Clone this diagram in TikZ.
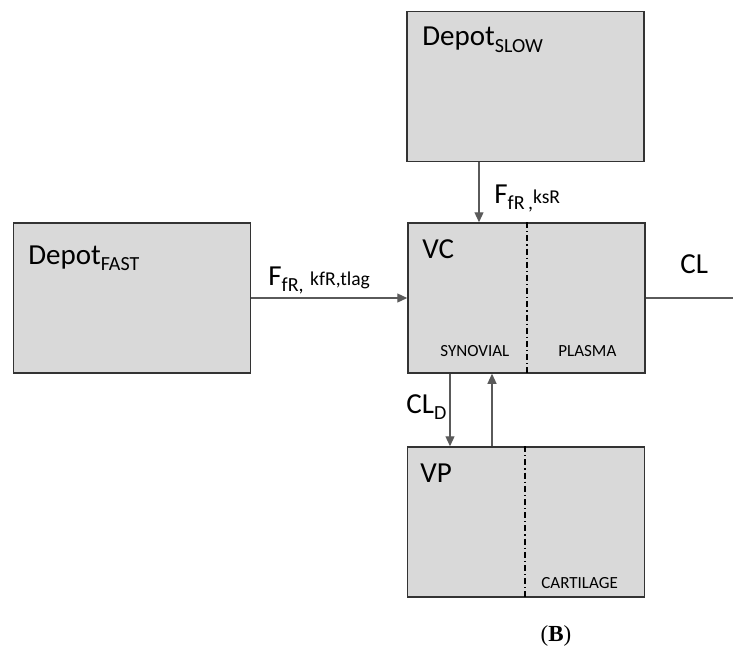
\documentclass[tikz,border=0pt]{standalone}
\usepackage{fontspec}
\setmainfont{Carlito}
\newfontfamily\labelfont{Liberation Serif}
\usetikzlibrary{arrows.meta}
\definecolor{boxfill}{HTML}{D9D9D9}
\definecolor{boxline}{HTML}{333333}
\definecolor{flowline}{HTML}{5A5A5A}
% lowered small text, as Word sets its subscripts
\newcommand\subtxt[1]{\raisebox{-0.24em}{\fontsize{10}{11}\selectfont #1}}
\newcommand\smalltxt[1]{{\fontsize{9.8}{11}\selectfont #1}}
\tikzset{
  compartment/.style={draw=boxline, fill=boxfill, line width=0.75pt,
    minimum width=118.5pt, minimum height=75pt, inner sep=0pt},
  bigtext/.style={anchor=base west, inner sep=0pt, font=\fontsize{14.5}{16}\selectfont},
  tissue/.style={anchor=base west, inner sep=0pt, font=\fontsize{8.5}{10}\selectfont},
  flow/.style={draw=flowline, line width=0.6pt},
  divider/.style={line width=0.75pt, dash pattern=on 3pt off 1.5pt on 0.6pt off 1.5pt},
  >={Triangle[length=5pt,width=4.5pt]}
}
\begin{document}
\begin{tikzpicture}
      [x=0.5pt, y=-0.5pt]
      \useasboundingbox (0, 0) rectangle (733, 648);
      \node[compartment](slow) at (525.5, 86.5) {};
      \node[compartment](fast) at (132, 298) {};
      \node[compartment](vc) at (526.5, 298) {};
      \node[compartment](vp) at (526, 522) {};
      \coordinate(out) at (733, 298);
      % compartments split in two
      \draw[divider](vc.north -| 527, 0) -- (vc.south -| 527, 0);
      \draw[divider](vp.north -| 525, 0) -- (vp.south -| 525, 0);
      \node[bigtext](slowname) at (422, 46) {Depot\subtxt{SLOW}};
      \node[bigtext](fastname) at (28, 264) {Depot\subtxt{FAST}};
      \node[bigtext](vcname) at (422, 258) {VC};
      \node[bigtext](vpname) at (420, 482) {VP};
      \node[tissue](synovial) at (440, 356) {SYNOVIAL};
      \node[tissue](plasma) at (558, 356) {PLASMA};
      \node[tissue](cartilage) at (541, 588) {CARTILAGE};
      % flows between compartments
      \draw[flow, ->](slow.south -| 479, 0) -- (vc.north -| 479, 0);
      \draw[flow, ->](fast) -- (vc);
      \draw[flow](vc) -- (out);
      \draw[flow, ->](vc.south -| 450, 0) -- (vp.north -| 450, 0);
      \draw[flow, ->](vp.north -| 492, 0) -- (vc.south -| 492, 0);
      \node[bigtext](slowrate) at (494, 203) {F\subtxt{fR\,,}\smalltxt{ksR}};
      \node[bigtext](fastrate) at (268, 285) {F\subtxt{fR,}\ \smalltxt{kfR,tlag}};
      \node[bigtext](cl) at (680, 273) {CL};
      \node[bigtext](cld) at (406, 413) {CL\subtxt{D}};
      \node[anchor=base, inner sep=0pt, font=\labelfont\fontsize{11.5}{13}\selectfont](panel) at (556, 641) {(\textbf{B})};
  \end{tikzpicture}
\end{document}
